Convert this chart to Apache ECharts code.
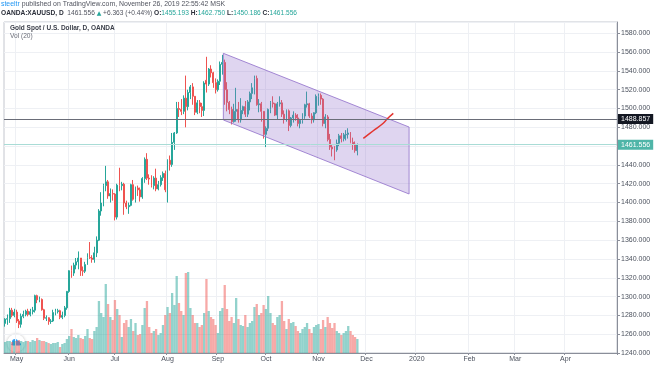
<!DOCTYPE html>
<html><head><meta charset="utf-8">
<script src="https://cdn.jsdelivr.net/npm/echarts/dist/echarts.min.js"></script>
<style>html,body{margin:0;padding:0;background:#fff}#c{width:654px;height:366px}</style>
</head><body><div id="c"></div>
<script>
// ---- data ----
const firstDay = [2019, 3, 24];   // 2019-04-24 (first bar)
const slotCount = 268;            // trading-day slots shown on the time axis (incl. future)
const monthNames = ['Jan','Feb','Mar','Apr','May','Jun','Jul','Aug','Sep','Oct','Nov','Dec'];
const priceTicks = {min: 1240, max: 1592, step: 20};

// candles: [open, close, low, high]
const candlesApr = [
 [1271.5,1276,1268,1277],[1276,1276.5,1270,1281],[1276.5,1285.5,1272,1288],[1285.5,1280,1278,1288],[1280,1283.5,1278,1287]
];
const candlesMay = [
 [1283.5,1274,1272,1286],[1274,1270.5,1266.5,1276],[1270.5,1279,1267,1282],[1279,1281,1277,1285],[1281,1284.5,1279,1286],
 [1284.5,1281,1279,1287],[1281,1284,1279,1287],[1284,1285.5,1281,1289],[1285.5,1301,1283,1302],[1301,1296.5,1293,1302],
 [1296.5,1297,1294,1300],[1297,1286,1285,1298],[1286,1277,1275,1287],[1277,1277.5,1274,1280],[1277.5,1273.5,1270,1278],
 [1273.5,1274,1271,1276],[1274,1283,1273,1286],[1283,1284,1280,1287],[1284,1285,1282,1287],[1285,1278,1276,1286],
 [1278,1280,1276,1284],[1280,1288,1278,1290],[1288,1305.5,1286,1306]
];
const candlesJun = [
 [1305.5,1327.5,1304,1328],[1327.5,1325,1320,1333],[1325,1333.5,1322,1336],[1333.5,1337,1329,1341],[1337,1341,1329,1348],
 [1341,1327.5,1322,1341],[1327.5,1327,1322,1332],[1327,1334,1325,1337],[1334,1341.5,1334,1346],[1341.5,1341,1340,1358],
 [1341,1339.5,1336,1344],[1339.5,1346.5,1336,1353],[1346.5,1360,1342,1364],[1360,1391,1359,1393],[1391,1399.5,1386,1411],
 [1399.5,1418,1396,1420],[1418,1422,1412,1439],[1422,1407,1404,1424],[1407,1409.5,1400,1415],[1409.5,1409,1402,1414]
];
const candlesJul = [
 [1409,1384.5,1381,1410],[1384.5,1418.5,1382,1420],[1418.5,1418,1412,1437],[1418,1419.5,1413,1422],[1419.5,1399.5,1387,1421],
 [1399.5,1395.5,1393,1402],[1395.5,1397,1388,1400],[1397,1419,1396,1420],[1419,1403.5,1402,1424],[1403.5,1415.5,1400,1417],
 [1415.5,1413.5,1407,1418],[1413.5,1406,1401,1416],[1406,1425.5,1404,1427],[1425.5,1446,1421,1448],[1446,1426,1424,1452.5],
 [1426,1425,1419,1430],[1425,1418,1416,1429],[1418,1426,1414,1428],[1426,1414.5,1412,1436],[1414.5,1419,1413,1423],
 [1419,1426.5,1417,1429],[1426.5,1431,1423,1433],[1431,1413.5,1411,1434]
];
const candlesAug = [
 [1413.5,1445,1400,1446],[1445,1440.5,1434,1450],[1440.5,1464,1438,1474],[1464,1474,1456,1475],[1474,1500,1473,1507],
 [1500,1499,1491,1507],[1499,1497,1493,1510],[1497,1511,1494,1514],[1511,1502,1480,1535],[1502,1517,1498,1520],
 [1517,1523,1510,1525],[1523,1513,1504,1527],[1513,1496,1493,1513],[1496,1506,1494,1509],[1506,1502,1495,1509],
 [1502,1498,1491,1506],[1498,1527,1492,1529],[1530,1526,1517,1555],[1526,1542,1524,1543],[1542,1538,1533,1546],
 [1538,1527.5,1522,1539],[1527.5,1520,1516,1532]
];
const candlesSep = [
 [1520,1529,1518,1531],[1529,1547,1525,1550],[1547,1549,1536,1557],[1549,1520,1504,1552],[1520,1506.5,1497,1528],
 [1506.5,1499,1494,1508],[1499,1486,1483,1502],[1486,1497,1485,1505],[1497,1499,1486,1522],[1499,1488,1485,1507],
 [1488,1498,1485,1511],[1498,1502,1494,1503],[1502,1494,1491,1508],[1494,1507,1491,1509],[1507,1516,1498,1518],
 [1516,1522,1510,1527],[1522,1532,1515,1535],[1532,1504,1503,1535],[1504,1505,1496,1510],[1505,1497,1486,1507],
 [1497,1472.5,1468,1497]
];
const candlesOct = [
 [1472.5,1479,1459,1481],[1479,1499,1476,1500],[1499,1506,1495,1508],[1506,1505,1501,1513],[1505,1493,1492,1506],
 [1493,1505,1488,1507],[1505,1506,1502,1513],[1506,1494,1491,1509],[1494,1489,1484,1498],[1489,1497.5,1486,1499],
 [1497.5,1482,1476,1499],[1482,1490,1480,1491],[1490,1493,1485,1497],[1493,1490,1487,1495],[1490,1484,1481,1494],
 [1484,1487.5,1479,1489],[1487.5,1492,1484,1495],[1492,1504,1489,1505],[1504,1505,1501,1518],[1505,1492,1490,1506],
 [1492,1488,1484,1495],[1488,1495.5,1485,1496],[1495.5,1513,1494,1515]
];
const candlesNov = [
 [1513,1514,1503,1516],[1514,1510,1504,1516],[1510,1484,1481,1511],[1484,1491,1479,1494],[1491,1467,1465,1493],
 [1467,1459,1456,1473],[1459,1457,1449,1462],[1457,1456,1445,1460],[1456,1463,1454,1467],[1463,1471,1460,1473],
 [1471,1468,1464,1474],[1468,1472,1465,1474],[1472,1472.5,1466,1477],[1472.5,1474,1468,1479],[1474,1464,1463,1475],
 [1464,1462,1456,1469],[1462,1455.2,1453,1465],[1455.193,1461.556,1450.186,1462.75]
];

// volume (thousands)
const volApr = [22,24,24,22,24];
const volMay = [24,26,24,22,24,24,22,26,24,30,26,24,24,22,20,18,20,20,22,12,18,20,28];
const volJun = [34,48,32,30,36,30,28,34,48,30,28,44,52,104,80,72,138,98,72,66];
const volJul = [106,88,76,32,60,66,52,68,44,60,36,38,56,90,104,52,40,44,48,36,40,56,76];
const volAug = [92,80,120,96,154,100,84,76,160,162,90,76,60,60,52,56,80,148,84,72,68,56];
const volSep = [40,84,90,136,88,64,72,60,110,68,56,54,76,52,60,64,92,98,76,80,96];
const volOct = [88,114,80,60,56,72,76,104,64,48,68,60,62,54,44,40,48,52,60,48,40,52,56];
const volNov = [58,48,66,52,72,60,50,60,44,40,36,40,44,54,44,36,32,28];

const lastPrice = 1461.556;
const hLineLevel = 1488.857;
// channel corners [bar index, price]
const channelPts = [[95.4,1558.7],[176.6,1480.3],[176.6,1409.1],[95.4,1487.8]];
// hand-drawn projection line [bar index, price]
const arrowPts = [[156.6,1468.3],[160.8,1476.1],[165.3,1484.3],[167.4,1489.9],[169.7,1494.9]];

// ---- build ----
const candles = [].concat(candlesApr,candlesMay,candlesJun,candlesJul,candlesAug,candlesSep,candlesOct,candlesNov);
const volumes = [].concat(volApr,volMay,volJun,volJul,volAug,volSep,volOct,volNov);

const dates = [];
(function(){
  const d = new Date(Date.UTC(firstDay[0], firstDay[1], firstDay[2]));
  while (dates.length < slotCount) {
    const wd = d.getUTCDay();
    if (wd !== 0 && wd !== 6) dates.push(d.toISOString().slice(0,10));
    d.setUTCDate(d.getUTCDate()+1);
  }
})();
const isMonthStart = (i) => i > 0 && i < slotCount - 3 && dates[i].slice(5,7) !== dates[i-1].slice(5,7);
const monthLabel = (v) => { const m = +v.slice(5,7); return m === 1 ? v.slice(0,4) : monthNames[m-1]; };

const UP = '#26a69a', DOWN = '#ef5350';
const volData = volumes.map((v,i) => {
  const c = candles[i];
  const up = c[1] >= c[0];
  return {value: v, itemStyle: {color: up ? 'rgba(38,166,154,0.5)' : 'rgba(239,83,80,0.5)'}};
});

function toPx(api, pt) {
  const i0 = Math.floor(pt[0]), f = pt[0] - i0;
  const a = api.coord([i0, pt[1]]), b = api.coord([i0+1, pt[1]]);
  return [a[0] + (b[0]-a[0])*f, a[1]];
}

const FONT = 'Liberation Sans';
const gridBox = {left: 4, right: 37, top: 22, bottom: 13};
const chart = echarts.init(document.getElementById('c'), null, {renderer: 'canvas'});
chart.setOption({
  animation: false,
  backgroundColor: '#fff',
  textStyle: {fontFamily: FONT},
  grid: [
    Object.assign({show: true, borderColor: '#c3c6ce', borderWidth: 1, backgroundColor: '#fff'}, gridBox),
    Object.assign({}, gridBox)
  ],
  xAxis: [
    {type: 'category', gridIndex: 0, data: dates, boundaryGap: true,
     axisLine: {show: true, lineStyle: {color: '#8a8e99'}},
     axisTick: {show: true, interval: isMonthStart, length: 2, lineStyle: {color: '#8a8e99'}},
     axisLabel: {interval: isMonthStart, formatter: monthLabel, fontSize: 7, color: '#4c525e', margin: 3, fontFamily: FONT},
     splitLine: {show: true, interval: isMonthStart, lineStyle: {color: '#eef0f4', width: 1}}},
    {type: 'category', gridIndex: 1, data: dates, boundaryGap: true, show: false}
  ],
  yAxis: [
    {type: 'value', gridIndex: 0, position: 'right', min: priceTicks.min, max: priceTicks.max, interval: priceTicks.step,
     axisLine: {show: true, lineStyle: {color: '#8a8e99'}},
     axisTick: {show: true, length: 3, lineStyle: {color: '#8a8e99'}},
     axisLabel: {showMaxLabel: false, fontSize: 7, color: '#4c525e', margin: 4, fontFamily: FONT,
       formatter: v => (v % priceTicks.step === 0) ? v.toFixed(3) : ''},
     splitLine: {show: true, lineStyle: {color: '#eef0f4', width: 1}}},
    {type: 'value', gridIndex: 1, min: 0, max: 662, show: false, splitLine: {show: false}}
  ],
  series: [
    {type: 'bar', xAxisIndex: 1, yAxisIndex: 1, data: volData, barWidth: '100%', z: 1, silent: true},
    {type: 'candlestick', xAxisIndex: 0, yAxisIndex: 0, data: candles, barWidth: 1.4, z: 3,
     itemStyle: {color: UP, color0: DOWN, borderColor: UP, borderColor0: DOWN, borderWidth: 1},
     markLine: {symbol: 'none', silent: true, z: 10, animation: false,
       data: [
         {yAxis: hLineLevel, lineStyle: {color: '#6a6d78', width: 1, type: 'solid'},
          label: {show: true, position: 'end', distance: 1, formatter: hLineLevel.toFixed(3), color: '#fff',
                  backgroundColor: '#131722', padding: [2,3,1,3], fontSize: 7, fontFamily: FONT}},
         {yAxis: lastPrice, lineStyle: {color: '#a9dcd6', width: 1, type: 'solid'},
          label: {show: true, position: 'end', distance: 1, formatter: lastPrice.toFixed(3), color: '#fff',
                  backgroundColor: '#4fb5a8', padding: [2,3,1,3], fontSize: 7, fontFamily: FONT}}
       ]}},
    {type: 'custom', xAxisIndex: 0, yAxisIndex: 0, data: [[0, 1500]], z: 5, silent: true,
     renderItem: (params, api) => ({
       type: 'polygon',
       shape: {points: channelPts.map(p => toPx(api, p))},
       style: {fill: 'rgba(149,117,205,0.3)', stroke: 'rgba(149,117,205,0.85)', lineWidth: 1}
     })},
    {type: 'custom', xAxisIndex: 0, yAxisIndex: 0, data: [[0, 1500]], z: 6, silent: true,
     renderItem: (params, api) => ({
       type: 'polyline',
       shape: {points: arrowPts.map(p => toPx(api, p)), smooth: 0.4},
       style: {stroke: '#e3342f', lineWidth: 1.5, fill: null}
     })}
  ],
  graphic: [
    {type: 'text', left: 1, top: 1, z: 100, style: {
      text: '{u|steeltr} published on TradingView.com, November 26, 2019 22:55:42 MSK',
      fontSize: 6.9, fill: '#50535e', fontFamily: FONT,
      rich: {u: {fill: '#2196f3', fontSize: 6.9, fontFamily: FONT}}}},
    {type: 'text', left: 1, top: 10, z: 100, style: {
      text: '{b|OANDA:XAUUSD, D}  {n|1461.556} {t|▲} {n|+6.363 (+0.44%)} {b|O:}{v|1455.193} {b|H:}{v|1462.750} {b|L:}{v|1450.186} {b|C:}{v|1461.556}',
      fontSize: 6.6, fill: '#333', fontFamily: FONT,
      rich: {
        b: {fontWeight: 'bold', fill: '#2a2e39', fontSize: 6.6, fontFamily: FONT},
        n: {fill: '#50535e', fontSize: 6.6, fontFamily: FONT},
        t: {fill: '#26a69a', fontSize: 6, fontFamily: 'DejaVu Sans'},
        v: {fill: '#26a69a', fontSize: 6.6, fontFamily: FONT}
      }}},
    {type: 'text', left: 10, top: 25, z: 100, style: {
      text: 'Gold Spot / U.S. Dollar, D, OANDA', fontSize: 6.5, fontWeight: 'bold', fill: '#3a3e49', fontFamily: FONT}},
    {type: 'text', left: 10, top: 33, z: 100, style: {
      text: 'Vol (20)', fontSize: 6.6, fill: '#6a6d78', fontFamily: FONT}},
    {type: 'group', left: 7, top: 334, z: 100, children: [
      {type: 'circle', shape: {cx: 9, cy: 9, r: 9}, style: {fill: '#fff', shadowBlur: 3, shadowColor: 'rgba(0,0,0,0.25)'}},
      {type: 'circle', shape: {cx: 8, cy: 8, r: 3}, style: {fill: '#2a9df4'}},
      {type: 'circle', shape: {cx: 11, cy: 9, r: 2.2}, style: {fill: '#2a9df4'}},
      {type: 'rect', shape: {x: 4.5, y: 9, width: 9.5, height: 2.6, r: 1.3}, style: {fill: '#2a9df4'}}
    ]}
  ]
});
</script></body></html>
